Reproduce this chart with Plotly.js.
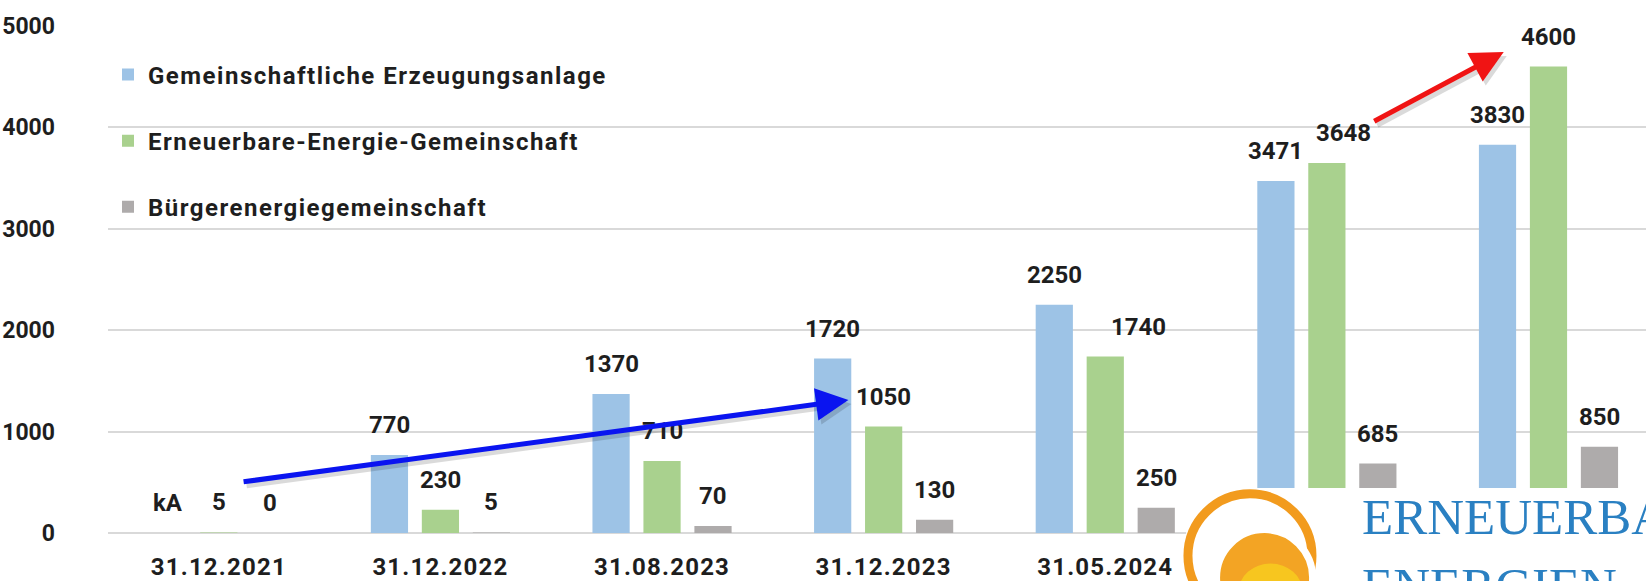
<!DOCTYPE html>
<html><head><meta charset="utf-8">
<script src="https://cdn.plot.ly/plotly-3.0.1.min.js"></script>
<style>
html,body{margin:0;padding:0;background:#fff;overflow:hidden;}
#chart{width:1646px;height:581px;}
.legendtext{letter-spacing:1.5px;}
.xtick text{letter-spacing:1.2px;}
</style>
</head><body><div id="chart"></div>
<script>
// ---- data ----
const categories = ['31.12.2021','31.12.2022','31.08.2023','31.12.2023','31.05.2024','31.12.2024','30.06.2025'];
const seriesNames = ['Gemeinschaftliche Erzeugungsanlage','Erneuerbare-Energie-Gemeinschaft','Bürgerenergiegemeinschaft'];
const erzeugungsanlage = [null, 770, 1370, 1720, 2250, 3471, 3830];
const eeGemeinschaft = [5, 230, 710, 1050, 1740, 3648, 4600];
const buergerGemeinschaft = [0, 5, 70, 130, 250, 685, 850];
const visibleTickLabels = categories.slice(0, 5);
const yTicks = [0, 1000, 2000, 3000, 4000, 5000];
const missingText = 'kA';
const logoLines = ['ERNEUERBARE', 'ENERGIEN'];

// ---- style ----
const colors = ['#9dc3e6', '#a9d18e', '#aeabab'];
const barPitch = 50.9;             // px between neighbouring bars in a group
const labelNudge = {'1-4': 33, '1-5': 17};   // extra x px for a few labels
const font = 'Roboto, "Open Sans", sans-serif';
const ink = '#1e1e1e';

const series = [erzeugungsanlage, eeGemeinschaft, buergerGemeinschaft];
const traces = series.map((vals, s) => ({
  type: 'bar', name: seriesNames[s], x: categories, y: vals,
  marker: {color: colors[s]}, legendgroup: 'g' + s, hoverinfo: 'none'
}));

const annotations = [];
series.forEach((vals, s) => {
  vals.forEach((v, i) => {
    annotations.push({
      x: categories[i], y: v == null ? 0 : v, xref: 'x', yref: 'y',
      text: v == null ? missingText : String(v), showarrow: false,
      xshift: (s - 1) * barPitch + (labelNudge[s + '-' + i] || 0), yshift: 30,
      font: {family: font, size: 24, color: ink, weight: 'bold'}
    });
  });
});

function arrow(x, y, ax, ay, color, shadow) {
  return {x: x, y: y, ax: ax, ay: ay, xref: 'x', yref: 'y', axref: 'x', ayref: 'y',
    text: '', showarrow: true, arrowhead: 2, arrowsize: 1.3, arrowwidth: 5,
    arrowcolor: color, standoff: 0, xshift: shadow ? 3 : 0, yshift: shadow ? -4 : 0};
}
annotations.unshift(arrow(2.841, 1312, 0.105, 503, 'rgba(0,0,0,0.14)', true));
annotations.unshift(arrow(5.798, 4744, 5.207, 4053, 'rgba(0,0,0,0.14)', true));
annotations.push(arrow(2.841, 1312, 0.105, 503, '#0a14f0', false));
annotations.push(arrow(5.798, 4744, 5.207, 4053, '#f01414', false));

// logo text
annotations.push({xref: 'paper', yref: 'paper', x: 0.814, y: 0.032, xanchor: 'left', yanchor: 'middle',
  text: logoLines[0], showarrow: false, font: {family: '"Liberation Serif", serif', size: 51, color: '#2a80c2'}});
annotations.push({xref: 'paper', yref: 'paper', x: 0.814, y: -0.104, xanchor: 'left', yanchor: 'middle',
  text: logoLines[1], showarrow: false, font: {family: '"Liberation Serif", serif', size: 51, color: '#2a80c2'}});

const ringX = 0.7425, ringY = -0.045, discX = 0.752, discY = -0.088;
const px = {type: 'circle', xref: 'paper', yref: 'paper', xsizemode: 'pixel', ysizemode: 'pixel', layer: 'above'};
const shapes = [
  {type: 'rect', xref: 'paper', yref: 'paper', x0: 0.701, x1: 1.02, y0: -0.2, y1: 0.0888,
   fillcolor: '#ffffff', line: {width: 0}, layer: 'above'},
  Object.assign({}, px, {xanchor: ringX, yanchor: ringY, x0: -62, x1: 62, y0: -62, y1: 62,
   line: {color: '#f29b1e', width: 9}, fillcolor: 'rgba(0,0,0,0)'}),
  Object.assign({}, px, {xanchor: discX, yanchor: discY, x0: -48, x1: 48, y0: -48, y1: 48,
   line: {color: '#ffffff', width: 7}, fillcolor: '#f3a424'}),
  Object.assign({}, px, {xanchor: discX, yanchor: discY, x0: -26, x1: 38, y0: -42, y1: 14,
   line: {width: 0}, fillcolor: 'rgba(247,205,30,0.85)'})
];

const layout = {
  width: 1646, height: 581,
  margin: {l: 108, r: 0, t: 26, b: 48, pad: 0},
  paper_bgcolor: '#ffffff', plot_bgcolor: '#ffffff',
  barmode: 'group', bargap: 0.31, bargroupgap: 0.27,
  showlegend: true,
  legend: {x: 0, y: 0.948, xanchor: 'left', yanchor: 'top', traceorder: 'grouped',
    tracegroupgap: 32, bgcolor: 'rgba(0,0,0,0)',
    font: {family: font, size: 24, color: ink, weight: 'bold'}},
  xaxis: {type: 'category', range: [-0.5, 6.44], tickvals: visibleTickLabels, ticktext: visibleTickLabels,
    showgrid: false, zeroline: false, showline: false, ticks: '', automargin: false,
    ticklabelstandoff: 17, tickfont: {family: font, size: 24, color: ink, weight: 'bold'}},
  yaxis: {range: [0, 5000], tickvals: yTicks, showgrid: true, gridcolor: '#d9d9d9', gridwidth: 2,
    zeroline: true, zerolinecolor: '#d9d9d9', zerolinewidth: 2, showline: false, ticks: '',
    automargin: false, ticklabelstandoff: 52,
    tickfont: {family: font, size: 23, color: ink, weight: 'bold'}},
  annotations: annotations,
  shapes: shapes
};

Plotly.newPlot('chart', traces, layout, {staticPlot: true, displayModeBar: false});
</script>
</body></html>
